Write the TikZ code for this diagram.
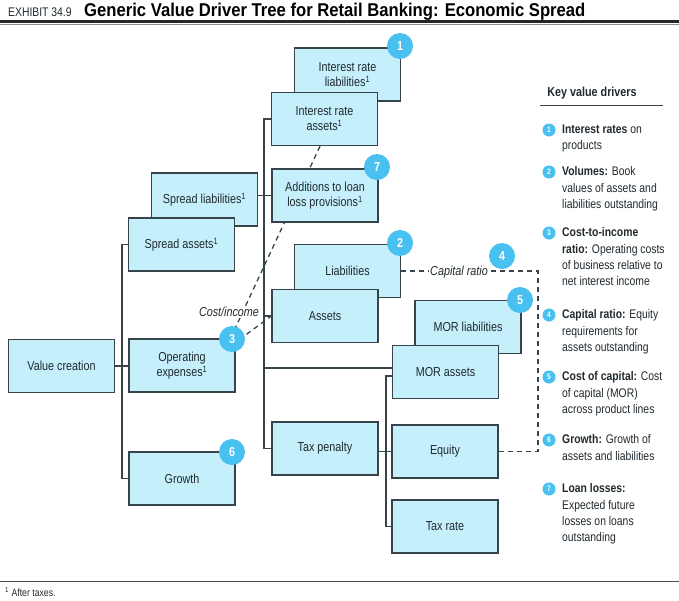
\documentclass[tikz,border=0pt]{standalone}
\usepackage{fontspec}
\setmainfont{Liberation Sans}[FakeStretch=0.83]
\newfontfamily\titlefont{Liberation Sans}[FakeStretch=0.9]
\usetikzlibrary{backgrounds}
\definecolor{boxfill}{RGB}{198,239,252}
\definecolor{boxline}{RGB}{55,68,76}
\definecolor{badgecol}{RGB}{72,192,240}
\definecolor{txt}{RGB}{32,42,48}
\begin{document}
\begin{tikzpicture}[x=1pt,y=-1pt,
  box/.style={draw=boxline, line width=1.4pt, fill=boxfill, minimum width=106pt, minimum height=53pt, inner sep=0pt, align=center, font=\fontsize{13}{15}\selectfont, text=txt},
  link/.style={draw=boxline, line width=1.3pt},
  dashline/.style={draw=boxline, line width=1.3pt, dash pattern=on 5pt off 4pt},
  badge/.style={circle, fill=badgecol, minimum size=26pt, inner sep=0pt, text=white, font=\bfseries\fontsize{13}{13}\selectfont},
  sbadge/.style={circle, fill=badgecol, minimum size=13pt, inner sep=0pt, text=white, font=\bfseries\fontsize{8}{8}\selectfont},
  lbl/.style={fill=white, inner sep=1.5pt, font=\itshape\fontsize{13}{14}\selectfont, text=txt},
  item/.style={anchor=north west, align=left, inner sep=0pt, font=\fontsize{12.5}{16.3}\selectfont, text=txt}
]
\useasboundingbox (0,0) rectangle (679,600);

% title
\node[anchor=base west, inner sep=0pt, font=\fontsize{12.5}{14}\selectfont, text=txt] (exh) at (8,16) {EXHIBIT 34.9};
\node[anchor=base west, inner sep=0pt, font=\titlefont\bfseries\fontsize{18.5}{20}\selectfont, text=black] (ttl) at (84,16) {Generic Value Driver Tree for Retail Banking: Economic Spread};
\draw[line width=2.2pt, black!85] (0,21.5) -- (679,21.5);
\draw[line width=0.7pt, black!45] (0,24) -- (679,24);

% boxes
\node[box] (vc) at (61.5,366) {Value creation};
\node[box] (opex) at (182,365.5) {Operating\\expenses\textsuperscript{1}};
\node[box] (sl) at (204.5,199.5) {Spread liabilities\textsuperscript{1}};
\node[box] (sa) at (181.5,244.5) {Spread assets\textsuperscript{1}};
\node[box] (growth) at (182,478.5) {Growth};
\node[box] (irl) at (347.5,74.5) {Interest rate\\liabilities\textsuperscript{1}};
\node[box] (ira) at (324.5,119) {Interest rate\\assets\textsuperscript{1}};
\node[box] (add) at (325,195.5) {Additions to loan\\loss provisions\textsuperscript{1}};
\node[box] (liab) at (347.5,271) {Liabilities};
\node[box] (assets) at (325,316) {Assets};
\node[box] (morl) at (468,327) {MOR liabilities};
\node[box] (mora) at (445.5,372) {MOR assets};
\node[box] (tax) at (325,448.5) {Tax penalty};
\node[box] (equity) at (445,451.5) {Equity};
\node[box] (taxrate) at (445,526.5) {Tax rate};

% badges
\node[badge] (b1) at (400,46) {1};
\node[badge] (b7) at (377,167) {7};
\node[badge] (b2) at (400,243) {2};
\node[badge] (b4) at (502,256) {4};
\node[badge] (b5) at (520,300) {5};
\node[badge] (b3) at (232,339) {3};
\node[badge] (b6) at (232,452) {6};

% trunk coordinates
\coordinate (t1) at (122,0);
\coordinate (t2) at (264,0);
\coordinate (t3) at (386,0);
\coordinate (t4) at (538,0);

\begin{pgfonlayer}{background}
  \fill[white] (0,0) rectangle (679,600);
  % solid connectors
  \draw[link] (vc.east) -- (vc.east -| opex.west);
  \draw[link] (sa.west) -- (sa.west -| t1) -- (growth.west -| t1) -- (growth.west);
  \draw[link] (sl.east |- add.west) -- (add.west);
  \draw[link] (ira.west) -- (ira.west -| t2) -- (tax.west -| t2) -- (tax.west);
  \draw[link] (assets.west) -- (assets.west -| t2);
  \draw[link] ([yshift=4pt]mora.west) -- ([yshift=4pt]mora.west -| t2);
  \draw[link] ([yshift=-4pt]mora.west) -- ([yshift=-4pt]mora.west -| t3) -- (taxrate.west -| t3) -- (taxrate.west);
  \draw[link] (tax.east |- equity.west) -- (equity.west);
  % dashed connectors
  \draw[dashline] ([xshift=-4.5pt]ira.south) -- ([xshift=-7pt,yshift=-11pt]b3.center);
  \node[lbl] (ci) at (229,312) {Cost/income};
  \draw[dashline] ([yshift=-6pt]b3.center) -- (assets.west);
  \draw[dashline] (liab.east) -- (liab.east -| t4) -- (equity.east -| t4) -- (equity.east);
  \node[lbl] (cr) at (459,272) {Capital ratio};
\end{pgfonlayer}

% legend
\node[inner sep=0pt, font=\bfseries\fontsize{13}{14}\selectfont, text=txt] (kvd) at (592,93) {Key value drivers};
\draw[line width=1pt, boxline] (540,105) -- (663,105);

\node[sbadge] (s1) at (549,130) {1};
\node[item] (i1) at (562,124.5) {\textbf{Interest rates} on\\products};
\node[sbadge] (s2) at (549,172) {2};
\node[item] (i2) at (562,166.5) {\textbf{Volumes:} Book\\values of assets and\\liabilities outstanding};
\node[sbadge] (s3) at (549,233) {3};
\node[item] (i3) at (562,227.5) {\textbf{Cost-to-income}\\\textbf{ratio:} Operating costs\\of business relative to\\net interest income};
\node[sbadge] (s4) at (549,315) {4};
\node[item] (i4) at (562,309.5) {\textbf{Capital ratio:} Equity\\requirements for\\assets outstanding};
\node[sbadge] (s5) at (549,377) {5};
\node[item] (i5) at (562,371.5) {\textbf{Cost of capital:} Cost\\of capital (MOR)\\across product lines};
\node[sbadge] (s6) at (549,440) {6};
\node[item] (i6) at (562,434.5) {\textbf{Growth:} Growth of\\assets and liabilities};
\node[sbadge] (s7) at (549,489) {7};
\node[item] (i7) at (562,483.5) {\textbf{Loan losses:}\\Expected future\\losses on loans\\outstanding};

% footnote
\draw[line width=1pt, black!70] (0,581) -- (679,581);
\node[anchor=base west, inner sep=0pt, font=\fontsize{10.5}{12}\selectfont, text=txt] (fn) at (5,596) {\textsuperscript{1} After taxes.};
\end{tikzpicture}
\end{document}
